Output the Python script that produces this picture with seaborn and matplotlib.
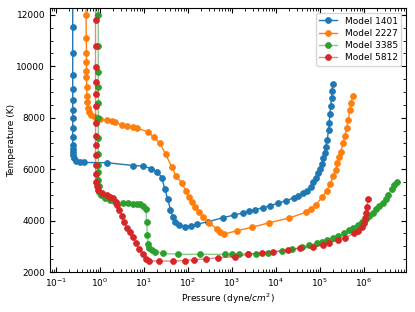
import matplotlib
matplotlib.use("Agg")
import matplotlib.pyplot as plt
import seaborn as sns
import pandas as pd
from matplotlib.ticker import MultipleLocator, LogLocator, NullFormatter

# ---------------- data (pressure in dyne/cm^2, temperature in K) ----------------
p_1401 = [0.240, 0.240, 0.240, 0.240, 0.240, 0.240, 0.240, 0.240, 0.240, 0.240, 0.240,
          0.240, 0.243, 0.250, 0.263, 0.292, 0.351, 0.433, 1.42, 5.71, 9.33, 14.4, 20.3,
          25.2, 30.0, 34.6, 40.0, 44.9, 50.7, 63.4, 85.5, 115, 163, 289, 641, 1127, 1807,
          2472, 3334, 4989, 7311, 10940, 16870, 25650, 32140, 40460, 49890, 61520, 70470,
          81100, 91410, 1.0e5, 1.094e5, 1.189e5, 1.279e5, 1.368e5, 1.466e5, 1.578e5,
          1.626e5, 1.687e5, 1.750e5, 1.845e5, 1.905e5, 1.945e5]
t_1401 = [12900, 11545, 10507, 9651, 9107, 8691, 8302, 7979, 7614, 7263, 6940,
          6785, 6668, 6551, 6435, 6337, 6279, 6260, 6252, 6143, 6123, 6026, 5909,
          5668, 5217, 4840, 4431, 4140, 3965, 3828, 3770, 3789, 3867, 3957, 4120, 4217, 4307,
          4373, 4423, 4501, 4579, 4672, 4773, 4890, 4956, 5061, 5163, 5318, 5489,
          5668, 5839, 6018, 6201, 6423, 6641, 6874, 7135, 7524,
          7808, 8135, 8457, 8780, 9053, 9313]

p_2227 = [0.481, 0.481, 0.489, 0.493, 0.493, 0.493, 0.493, 0.501, 0.507, 0.520, 0.542,
          0.577, 0.624, 0.769, 1.0, 1.42, 1.85, 2.19, 3.11, 4.05, 5.53, 7.04, 12.1, 17.1,
          23.1, 31.1, 42.6, 53.4, 71.9, 90.1, 107, 123, 147, 181, 223, 295, 449, 534, 658,
          1318, 2805, 7046, 20060, 47320, 62370, 81100, 1.140e5, 1.419e5, 1.714e5,
          2.004e5, 2.274e5, 2.500e5, 2.748e5, 3.000e5, 3.388e5, 3.700e5, 4.045e5,
          4.395e5, 4.808e5, 5.07e5, 5.71e5]
t_2227 = [12900, 12000, 11091, 10507, 10181, 9830, 9573, 9185, 8846, 8625, 8367,
          8236, 8107, 8010, 7952, 7913, 7874, 7823, 7718, 7679, 7652, 7590, 7458, 7240,
          7006, 6578, 6096, 5734, 5474, 5151, 4906, 4735, 4517, 4334, 4128, 3918, 3692, 3568, 3478,
          3607, 3739, 3918, 4101, 4322, 4451, 4626, 4918, 5151, 5431,
          5723, 5987, 6228, 6462, 6680, 7030, 7290, 7590,
          7913, 8302, 8586, 8858]

p_3385 = [0.915, 0.915, 0.915, 0.915, 0.915, 0.915, 0.915, 0.915, 0.915, 0.915, 0.915,
          0.925, 0.939, 0.964, 1.03, 1.30, 1.69, 2.19, 3.39, 4.40, 5.71, 6.82, 8.11, 9.64,
          11.1, 11.5, 11.9, 12.5, 13.3, 15.0, 17.8, 27.5, 60.2, 187, 693, 985, 1466, 2345,
          3510, 6683, 13490, 22750, 38370, 57100, 84140, 1.094e5, 1.419e5, 2.004e5,
          2.606e5, 3.510e5, 4.634e5, 5.71e5, 7.19e5, 8.87e5, 1.094e6, 1.300e6, 1.578e6,
          1.875e6, 2.228e6, 2.661e6, 3.112e6, 3.565e6, 4.266e6, 4.887e6, 5.534e6]
t_3385 = [12900, 12000, 10791, 9792, 9185, 8586, 7979, 7201, 6578, 6162, 5890,
          5579, 5345, 5124, 4995, 4867, 4801, 4735, 4672, 4672, 4645, 4645, 4633, 4587,
          4470, 3957, 3459, 3109, 2953, 2856, 2797, 2727, 2689, 2689, 2689, 2689, 2712, 2700,
          2700, 2751, 2817, 2883, 2961, 3050, 3116, 3179, 3245, 3334,
          3400, 3505, 3634, 3723, 3828, 3933, 4050, 4167, 4307,
          4439, 4567, 4696, 4828, 4995, 5217, 5384, 5501]

p_5812 = [0.791, 0.791, 0.791, 0.791, 0.791, 0.791, 0.791, 0.791, 0.791, 0.791, 0.791,
          0.798, 0.798, 0.811, 0.841, 0.915, 1.09, 1.42, 1.69, 2.01, 2.27, 2.47, 2.75, 3.11,
          3.51, 4.05, 4.81, 5.71, 6.58, 7.82, 9.33, 11.1, 13.2, 22.3, 46.3, 85.5, 137, 261,
          488, 1169, 2345, 4732, 8690, 19050, 35090, 68230, 1.189e5, 1.603e5, 2.606e5,
          3.70e5, 6.03e5, 7.41e5, 8.87e5, 1.0e6, 1.072e6, 1.094e6, 1.151e6, 1.253e6]
t_5812 = [12900, 11802, 10791, 9986, 9403, 8913, 8457, 7808, 7290, 6940, 6551,
          6162, 5831, 5520, 5345, 5190, 5073, 4995, 4937, 4867, 4743, 4606, 4412, 4178,
          3945, 3731, 3556, 3350, 3140, 2883, 2700, 2525, 2440, 2428, 2428, 2447, 2478, 2517,
          2556, 2603, 2689, 2751, 2790, 2856, 2922, 2984, 3050, 3140, 3245,
          3311, 3529, 3607, 3739, 3918, 4089, 4283, 4540, 4828]

models = ["Model 1401", "Model 2227", "Model 3385", "Model 5812"]
pressures = [p_1401, p_2227, p_3385, p_5812]
temperatures = [t_1401, t_2227, t_3385, t_5812]
colors = ["#1f77b4", "#ff7f0e", "#2ca02c", "#d62728"]
line_alpha = [1.0, 1.0, 0.55, 0.55]

# ---------------- figure ----------------
plt.rcParams.update({
    "font.family": ["DejaVu Sans"],
    "font.size": 6.5,
    "xtick.direction": "in",
    "ytick.direction": "in",
    "xtick.top": True,
    "ytick.right": True,
    "xtick.minor.visible": True,
    "ytick.minor.visible": True,
})

fig = plt.figure(figsize=(4.15, 3.12), dpi=100)
ax = fig.add_axes([0.1205, 0.128, 0.8575, 0.845])

for name, p, t, c, a in zip(models, pressures, temperatures, colors, line_alpha):
    df = pd.DataFrame({"p": p, "t": t})
    rgb = matplotlib.colors.to_rgb(c)
    sns.lineplot(data=df, x="p", y="t", sort=False, estimator=None, ax=ax,
                 color=(rgb[0], rgb[1], rgb[2], a), marker="o", markersize=4.3,
                 markerfacecolor=c, markeredgecolor=c, markeredgewidth=0.5,
                 linewidth=1.0, label=name)

ax.set_xscale("log")
ax.set_xlim(0.0731, 9.0e6)
ax.set_ylim(2000, 12250)
ax.yaxis.set_major_locator(MultipleLocator(2000))
ax.yaxis.set_minor_locator(MultipleLocator(500))
ax.xaxis.set_major_locator(LogLocator(base=10, numticks=20))
ax.xaxis.set_minor_locator(LogLocator(base=10, subs=range(2, 10), numticks=100))
ax.xaxis.set_minor_formatter(NullFormatter())
ax.tick_params(which="major", length=3.5, width=0.8, labelsize=6.5)
ax.tick_params(which="minor", length=2, width=0.6)

ax.set_xlabel("Pressure (dyne/$cm^2$)", fontsize=6.5, labelpad=1.5)
ax.set_ylabel("Temperature (K)", fontsize=6.5, labelpad=0.5)
ax.legend(loc="upper right", fontsize=6.5, handlelength=2.0, borderpad=0.4,
          labelspacing=0.35)

fig.savefig("out.png", dpi=100)
